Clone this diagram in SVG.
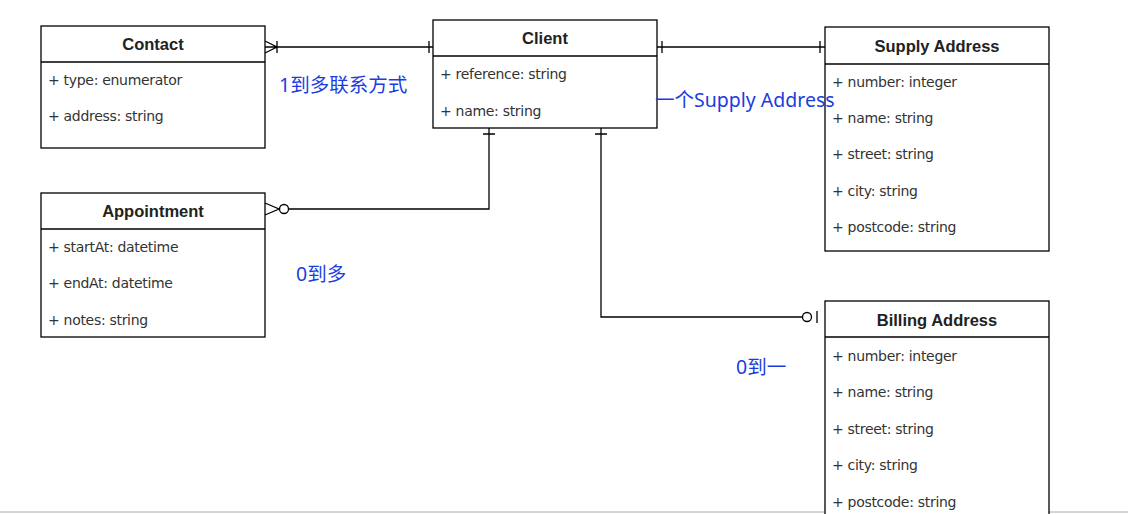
<svg xmlns="http://www.w3.org/2000/svg" width="1128" height="514" viewBox="0 0 1128 514">
<style>
.box{fill:#fff;stroke:#000;stroke-width:1.3}
.t{font-family:"Liberation Sans",Arial,sans-serif;font-size:16.5px;font-weight:bold;text-anchor:middle;fill:#222}
.f{font-family:"DejaVu Sans",sans-serif;font-size:14px;fill:#333;letter-spacing:-0.3px}
.c{fill:none;stroke:#000;stroke-width:1.3}
.lb{font-family:"Noto Sans","Noto Sans CJK SC",sans-serif;font-size:19.5px;fill:#1a3de0}
</style>
<rect width="1128" height="514" fill="#fff"/>
<line x1="0" y1="512" x2="1128" y2="512" stroke="#aaa"/>
<g id="contact"><rect class="box" x="41" y="26" width="224" height="122"/><line class="c" x1="41" y1="62" x2="265" y2="62"/><text class="t" x="153" y="50">Contact</text><text class="f" x="48" y="85">+ type: enumerator</text><text class="f" x="48" y="121">+ address: string</text></g>
<g id="client"><rect class="box" x="433" y="20" width="224" height="108"/><line class="c" x1="433" y1="56" x2="657" y2="56"/><text class="t" x="545" y="44">Client</text><text class="f" x="440" y="79">+ reference: string</text><text class="f" x="440" y="116">+ name: string</text></g>
<g id="supply"><rect class="box" x="825" y="27" width="224" height="224"/><line class="c" x1="825" y1="64" x2="1049" y2="64"/><text class="t" x="937" y="52">Supply Address</text><text class="f" x="832" y="87">+ number: integer</text><text class="f" x="832" y="123">+ name: string</text><text class="f" x="832" y="159">+ street: string</text><text class="f" x="832" y="196">+ city: string</text><text class="f" x="832" y="232">+ postcode: string</text></g>
<g id="appointment"><rect class="box" x="41" y="193" width="224" height="144"/><line class="c" x1="41" y1="229" x2="265" y2="229"/><text class="t" x="153" y="217">Appointment</text><text class="f" x="48" y="252">+ startAt: datetime</text><text class="f" x="48" y="288">+ endAt: datetime</text><text class="f" x="48" y="325">+ notes: string</text></g>
<g id="billing"><rect class="box" x="825" y="301" width="224" height="230"/><line class="c" x1="825" y1="337" x2="1049" y2="337"/><text class="t" x="937" y="326">Billing Address</text><text class="f" x="832" y="361">+ number: integer</text><text class="f" x="832" y="397">+ name: string</text><text class="f" x="832" y="434">+ street: string</text><text class="f" x="832" y="470">+ city: string</text><text class="f" x="832" y="507">+ postcode: string</text></g>
<g id="connectors">
<path class="c" d="M265 47H433M265 41L277 47L265 53M277 41V53M429 41V53"/>
<path class="c" d="M657 47H825M662 41V53M820 41V53"/>
<path class="c" d="M489 128V209H289M483 134H495M265 203L279 209L265 215"/><circle class="c" cx="284" cy="209" r="4.5"/>
<path class="c" d="M601 128V317H802M595 134H607M817 311V323"/><circle class="c" cx="807" cy="317" r="4.5"/>
</g>
<g id="labels"><text class="lb" x="279" y="92">1到多联系方式</text><text class="lb" x="655" y="107">一个Supply Address</text><text class="lb" x="296" y="281">0到多</text><text class="lb" x="736" y="374">0到一</text></g>
</svg>
